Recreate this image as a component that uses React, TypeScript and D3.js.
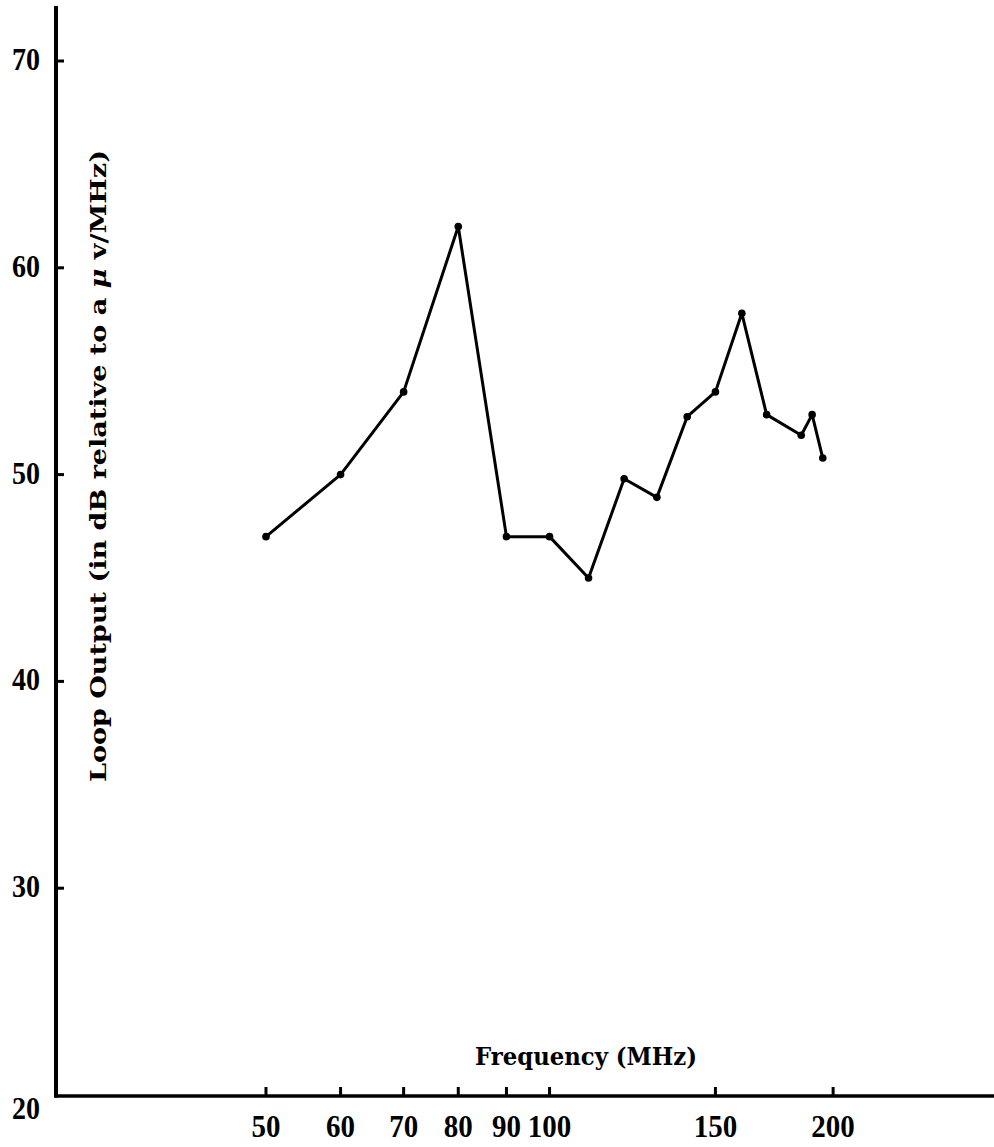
import React from "react";
import * as d3 from "d3";

// Loop output versus frequency (log frequency axis)
const frequencies = [50, 60, 70, 80, 90, 100, 110, 120, 130, 140, 150, 160, 170, 185, 190, 195];
const outputDb = [47, 50, 54, 62, 47, 47, 45, 49.8, 48.9, 52.8, 54, 57.8, 52.9, 51.9, 52.9, 50.8];
const xTicks = [50, 60, 70, 80, 90, 100, 150, 200];
const yTicks = [20, 30, 40, 50, 60, 70];

const W = 994;
const H = 1147;
const axisX = 56;
const axisY = 1096;

export default function App() {
  const x = d3.scaleLog().domain([30, 300]).range([57, 999]);
  const y = d3.scaleLinear().domain([20, 70]).range([1095, 61]);

  const pts = frequencies.map((f, i) => [x(f), y(outputDb[i])] as [number, number]);
  const line = d3.line()(pts) || "";

  const tickFont = "'Liberation Serif', serif";
  const labelFont = "'DejaVu Serif', serif";

  return (
    <svg
      width={W}
      height={H}
      viewBox={`0 0 ${W} ${H}`}
      style={{ position: "absolute", left: 0, top: 0, background: "#fff" }}
    >
      <rect width={W} height={H} fill="#fff" />

      {/* axes */}
      <line x1={axisX} y1={6} x2={axisX} y2={axisY + 1.5} stroke="#000" strokeWidth={4} />
      <line x1={axisX - 2} y1={axisY} x2={W} y2={axisY} stroke="#000" strokeWidth={3.5} />

      {/* y ticks and labels */}
      {yTicks.map((t) => (
        <g key={`y${t}`}>
          {t !== 20 && (
            <line x1={axisX} x2={axisX + 8} y1={y(t)} y2={y(t)} stroke="#000" strokeWidth={3} />
          )}
          <text
            x={40}
            y={y(t) + (t === 20 ? 24 : 9)}
            textAnchor="end"
            fontFamily={tickFont}
            fontWeight="bold"
            fontSize={31}
            textLength={String(t).length * 14}
            lengthAdjust="spacingAndGlyphs"
            fill="#000"
          >
            {t}
          </text>
        </g>
      ))}

      {/* x ticks and labels */}
      {xTicks.map((t) => (
        <g key={`x${t}`}>
          <line x1={x(t)} x2={x(t)} y1={axisY} y2={axisY - 9} stroke="#000" strokeWidth={3} />
          <text
            x={x(t)}
            y={1137}
            textAnchor="middle"
            fontFamily={tickFont}
            fontWeight="bold"
            fontSize={31}
            textLength={String(t).length * 14.5}
            lengthAdjust="spacingAndGlyphs"
            fill="#000"
          >
            {t}
          </text>
        </g>
      ))}

      {/* data */}
      <path d={line} fill="none" stroke="#000" strokeWidth={3} strokeLinejoin="round" />
      {pts.map((p, i) => (
        <circle key={i} cx={p[0]} cy={p[1]} r={3.8} fill="#000" />
      ))}

      {/* axis titles */}
      <text
        x={475}
        y={1065}
        fontFamily={labelFont}
        fontWeight="bold"
        fontSize={25}
        textLength={222}
        lengthAdjust="spacingAndGlyphs"
        fill="#000"
      >
        Frequency (MHz)
      </text>
      <text
        transform={`translate(106, 782) rotate(-90)`}
        x={0}
        y={0}
        fontFamily={labelFont}
        fontWeight="bold"
        fontSize={23}
        textLength={632}
        lengthAdjust="spacingAndGlyphs"
        fill="#000"
      >
        Loop Output (in dB relative to a <tspan fontStyle="italic">μ</tspan> v/MHz)
      </text>
    </svg>
  );
}
